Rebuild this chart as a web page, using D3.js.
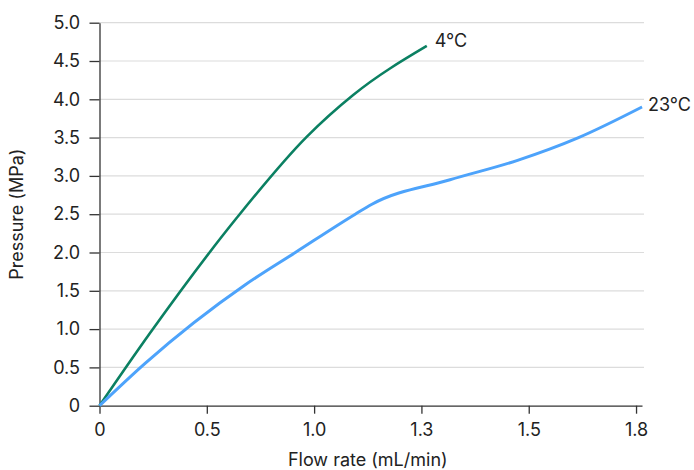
<!DOCTYPE html>
<html>
<head>
<meta charset="utf-8">
<script src="https://cdn.jsdelivr.net/npm/d3@7"></script>
<style>
  body { margin: 0; background: #fff; }
  text { font-family: Inter, Roboto, "Noto Sans", sans-serif; fill: #222; }
  .grid line { stroke: #dcdcdc; stroke-width: 1.2; }
  .axis path, .axis line { stroke: #333; stroke-width: 1.3; }
</style>
</head>
<body>
<div id="chart"></div>
<script>
const svgWidth = 694;
const svgHeight = 470;

const margin = { top: 22.7, right: 52, bottom: 64, left: 99.5 };
const width = 642 - margin.left;
const height = 405.7 - margin.top;
const fontSize = 18;

// tick positions are evenly spaced, labels as printed on the chart
const xTickValues = [0, 0.36, 0.72, 1.08, 1.44, 1.8];
const xTickLabels = ["0", "0.5", "1.0", "1.3", "1.5", "1.8"];
const yTickValues = [0, 0.5, 1, 1.5, 2, 2.5, 3, 3.5, 4, 4.5, 5];

// flow rate (x) and pressure (y)
const coldX = [0, 0.169, 0.46, 0.695, 0.851, 1.098];
const coldY = [0, 0.945, 2.45, 3.51, 4.056, 4.696];
const warmX = [0, 0.153, 0.488, 0.657, 0.858, 0.914, 1.176, 1.40, 1.607, 1.82];
const warmY = [0, 0.553, 1.576, 2.0, 2.5, 2.63, 2.95, 3.2, 3.5, 3.9];

const seriesNames = ["4°C", "23°C"];
const seriesColors = ["#0b8062", "#4da3fb"];

const svg = d3.select("#chart")
  .append("svg")
  .attr("width", svgWidth)
  .attr("height", svgHeight);

const chartGroup = svg.append("g")
  .attr("transform", `translate(${margin.left}, ${margin.top})`);

const xScale = d3.scaleLinear().domain([0, 1.82]).range([0, width]);
const yScale = d3.scaleLinear().domain([0, 5]).range([height, 0]);

// horizontal grid
chartGroup.append("g")
  .attr("class", "grid")
  .selectAll("line")
  .data(yTickValues.filter(d => d > 0))
  .enter()
  .append("line")
  .attr("x1", 0)
  .attr("x2", width + 2)
  .attr("y1", d => yScale(d))
  .attr("y2", d => yScale(d));

// x axis
const bottomAxis = d3.axisBottom(xScale)
  .tickValues(xTickValues)
  .tickFormat((d, i) => xTickLabels[i])
  .tickSizeInner(8)
  .tickSizeOuter(0)
  .tickPadding(10);

chartGroup.append("g")
  .attr("class", "axis")
  .attr("transform", `translate(0, ${height})`)
  .call(bottomAxis)
  .call(g => g.selectAll("text").attr("font-size", fontSize).attr("font-family", null));

// y axis
const leftAxis = d3.axisLeft(yScale)
  .tickValues(yTickValues)
  .tickFormat(d => d === 0 ? "0" : d3.format(".1f")(d))
  .tickSizeInner(10)
  .tickSizeOuter(0)
  .tickPadding(9.5);

chartGroup.append("g")
  .attr("class", "axis")
  .call(leftAxis)
  .call(g => g.selectAll("text").attr("font-size", fontSize).attr("font-family", null));

// lines
const lineGen = d3.line()
  .x(d => xScale(d[0]))
  .y(d => yScale(d[1]))
  .curve(d3.curveMonotoneX);

const series = [
  d3.zip(coldX, coldY),
  d3.zip(warmX, warmY)
];
const labelDx = [8, 6];
const labelDy = [1, 4];

series.forEach((pts, i) => {
  chartGroup.append("path")
    .datum(pts)
    .attr("fill", "none")
    .attr("stroke", seriesColors[i])
    .attr("stroke-width", i === 0 ? 2.6 : 3)
    .attr("stroke-linejoin", "round")
    .attr("d", lineGen);

  const last = pts[pts.length - 1];
  chartGroup.append("text")
    .attr("x", xScale(last[0]) + labelDx[i])
    .attr("y", yScale(last[1]) + labelDy[i])
    .attr("font-size", fontSize)
    .text(seriesNames[i]);
});

// axis titles
chartGroup.append("text")
  .attr("x", (xScale(0) + xScale(1.8)) / 2)
  .attr("y", height + 60.5)
  .attr("text-anchor", "middle")
  .attr("font-size", fontSize)
  .text("Flow rate (mL/min)");

chartGroup.append("text")
  .attr("transform", "rotate(-90)")
  .attr("x", -height / 2)
  .attr("y", -77)
  .attr("text-anchor", "middle")
  .attr("font-size", fontSize)
  .text("Pressure (MPa)");
</script>
</body>
</html>
